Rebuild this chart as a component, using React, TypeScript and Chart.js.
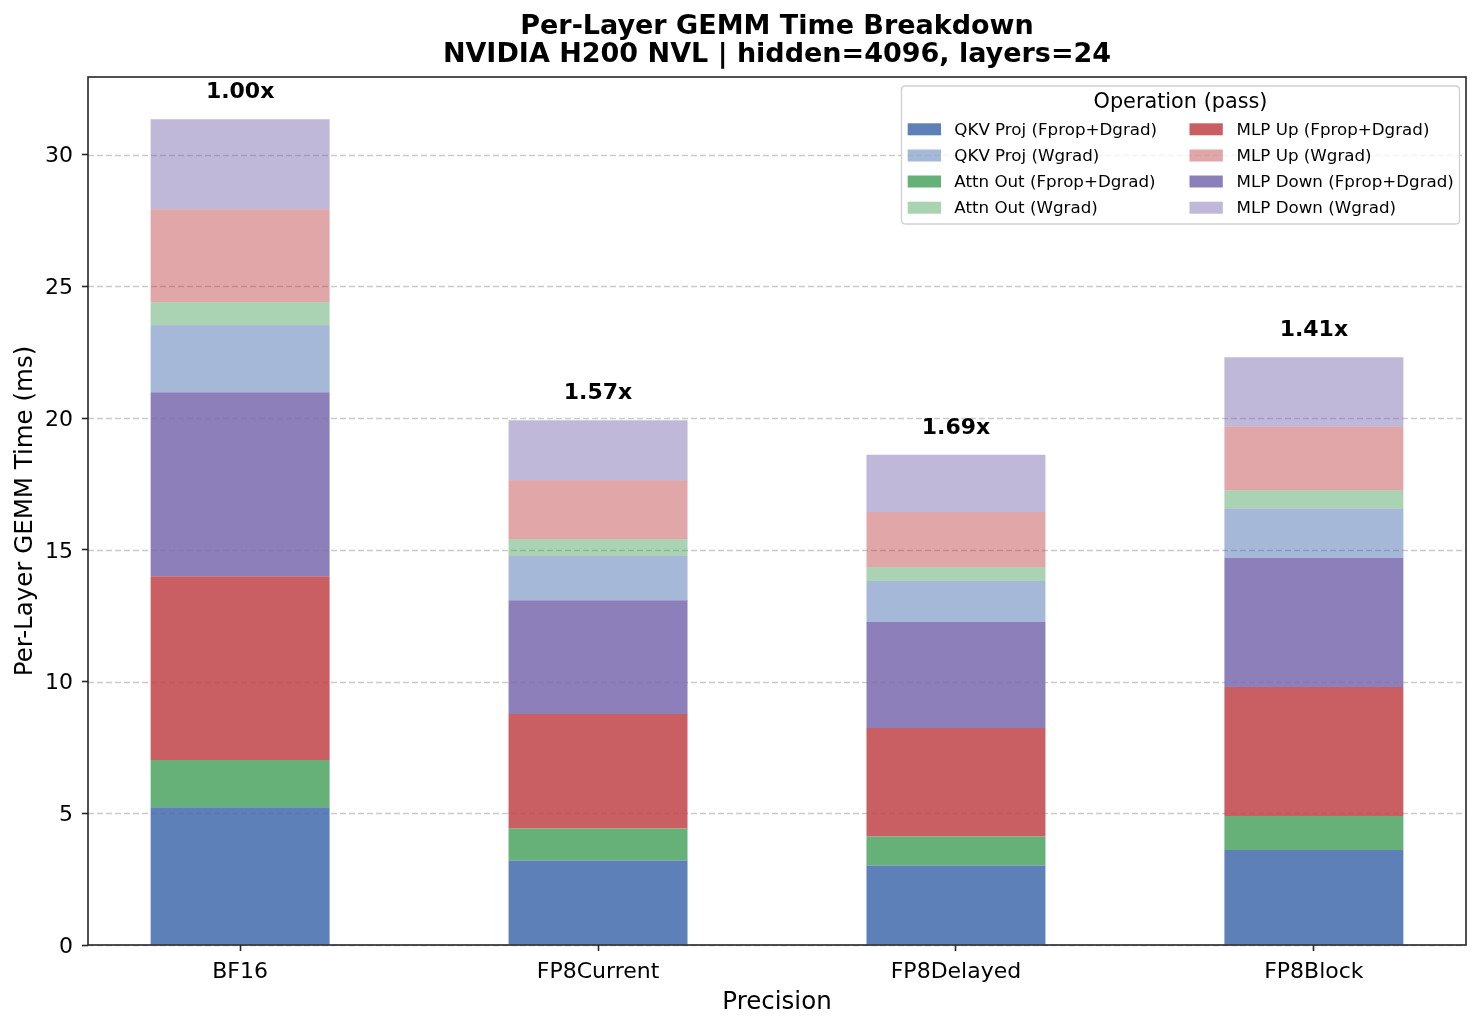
import React, { useEffect, useRef } from "react";
import { Chart, registerables } from "chart.js";

Chart.register(...registerables);

// ---- data ----
const categories = ["BF16", "FP8Current", "FP8Delayed", "FP8Block"];
const speedupLabels = ["1.00x", "1.57x", "1.69x", "1.41x"];
const yTickValues = [0, 5, 10, 15, 20, 25, 30];

const qkvFprop = [5.23, 3.21, 3.02, 3.61];
const attnFprop = [1.79, 1.21, 1.10, 1.29];
const mlpUpFprop = [6.98, 4.35, 4.12, 4.89];
const mlpDownFprop = [6.98, 4.32, 4.02, 4.91];
const qkvWgrad = [2.55, 1.68, 1.56, 1.87];
const attnWgrad = [0.87, 0.63, 0.53, 0.68];
const mlpUpWgrad = [3.53, 2.24, 2.09, 2.42];
const mlpDownWgrad = [3.42, 2.28, 2.17, 2.64];

const FONT = "'DejaVu Sans', sans-serif";

const BLUE = [76, 114, 176];
const GREEN = [85, 168, 104];
const RED = [196, 78, 82];
const PURPLE = [129, 114, 179];
const rgba = (c: number[], a: number) => `rgba(${c[0]},${c[1]},${c[2]},${a})`;

// stacking order, bottom to top
const series = [
  { label: "QKV Proj (Fprop+Dgrad)", values: qkvFprop, color: rgba(BLUE, 0.9) },
  { label: "Attn Out (Fprop+Dgrad)", values: attnFprop, color: rgba(GREEN, 0.9) },
  { label: "MLP Up (Fprop+Dgrad)", values: mlpUpFprop, color: rgba(RED, 0.9) },
  { label: "MLP Down (Fprop+Dgrad)", values: mlpDownFprop, color: rgba(PURPLE, 0.9) },
  { label: "QKV Proj (Wgrad)", values: qkvWgrad, color: rgba(BLUE, 0.5) },
  { label: "Attn Out (Wgrad)", values: attnWgrad, color: rgba(GREEN, 0.5) },
  { label: "MLP Up (Wgrad)", values: mlpUpWgrad, color: rgba(RED, 0.5) },
  { label: "MLP Down (Wgrad)", values: mlpDownWgrad, color: rgba(PURPLE, 0.5) },
];

// legend order (column-major, 2 columns)
const legendOrder = [
  "QKV Proj (Fprop+Dgrad)",
  "QKV Proj (Wgrad)",
  "Attn Out (Fprop+Dgrad)",
  "Attn Out (Wgrad)",
  "MLP Up (Fprop+Dgrad)",
  "MLP Up (Wgrad)",
  "MLP Down (Fprop+Dgrad)",
  "MLP Down (Wgrad)",
];

const titleLines = [
  "Per-Layer GEMM Time Breakdown",
  "NVIDIA H200 NVL | hidden=4096, layers=24",
];

const decorPlugin = {
  id: "decor",
  beforeDatasetsDraw(chart: any) {
    const { ctx, chartArea, scales } = chart;
    ctx.save();
    ctx.strokeStyle = "rgba(150,150,150,0.5)";
    ctx.lineWidth = 1.3;
    ctx.setLineDash([6, 3]);
    for (const v of yTickValues) {
      const y = Math.round(scales.y.getPixelForValue(v)) + 0.5;
      ctx.beginPath();
      ctx.moveTo(chartArea.left, y);
      ctx.lineTo(chartArea.right, y);
      ctx.stroke();
    }
    ctx.restore();
  },
  afterDatasetsDraw(chart: any) {
    const { ctx, scales } = chart;
    ctx.save();
    ctx.font = `bold 22px ${FONT}`;
    ctx.fillStyle = "#000";
    ctx.textAlign = "center";
    ctx.textBaseline = "alphabetic";
    categories.forEach((_, i) => {
      const total = series.reduce((s, d) => s + d.values[i], 0);
      const x = scales.x.getPixelForValue(i);
      const y = scales.y.getPixelForValue(total);
      ctx.fillText(speedupLabels[i], x, y - 21);
    });
    ctx.restore();
  },
  afterDraw(chart: any) {
    const { ctx, chartArea } = chart;
    const { left, right, top, bottom } = chartArea;
    ctx.save();
    // spines
    ctx.strokeStyle = "#262626";
    ctx.lineWidth = 1.6;
    ctx.strokeRect(left, top, right - left, bottom - top);

    // title
    ctx.fillStyle = "#000";
    ctx.textAlign = "center";
    ctx.textBaseline = "alphabetic";
    ctx.font = `bold 27px ${FONT}`;
    const cx = (left + right) / 2;
    ctx.fillText(titleLines[0], cx, 33.5);
    ctx.fillText(titleLines[1], cx, 62);

    // legend
    const bx = 901.5, by = 86, bw = 558, bh = 138, r = 4;
    ctx.beginPath();
    ctx.moveTo(bx + r, by);
    ctx.lineTo(bx + bw - r, by);
    ctx.quadraticCurveTo(bx + bw, by, bx + bw, by + r);
    ctx.lineTo(bx + bw, by + bh - r);
    ctx.quadraticCurveTo(bx + bw, by + bh, bx + bw - r, by + bh);
    ctx.lineTo(bx + r, by + bh);
    ctx.quadraticCurveTo(bx, by + bh, bx, by + bh - r);
    ctx.lineTo(bx, by + r);
    ctx.quadraticCurveTo(bx, by, bx + r, by);
    ctx.closePath();
    ctx.fillStyle = "rgba(255,255,255,0.8)";
    ctx.fill();
    ctx.strokeStyle = "#d0d0d0";
    ctx.lineWidth = 1.3;
    ctx.stroke();

    ctx.fillStyle = "#000";
    ctx.font = `20.8px ${FONT}`;
    ctx.textAlign = "center";
    ctx.textBaseline = "middle";
    ctx.fillText("Operation (pass)", bx + bw / 2, 103);

    ctx.font = `16.7px ${FONT}`;
    ctx.textAlign = "left";
    const rows = [129.3, 155.5, 181.5, 207.7];
    const patchX = [907.7, 1189.5];
    const textX = [954.3, 1236.6];
    legendOrder.forEach((label, k) => {
      const col = Math.floor(k / 4);
      const row = k % 4;
      const s = series.find((d) => d.label === label)!;
      const cy = rows[row];
      ctx.fillStyle = s.color;
      ctx.fillRect(patchX[col], cy - 6, 33.3, 12);
      ctx.fillStyle = "#000";
      ctx.fillText(label, textX[col], cy + 1);
    });
    ctx.restore();
  },
};

export default function App() {
  const canvasRef = useRef<HTMLCanvasElement>(null);

  useEffect(() => {
    document.body.style.margin = "0";
    const canvas = canvasRef.current!;
    const chart = new Chart(canvas, {
      type: "bar",
      data: {
        datasets: series.map((s) => ({
          label: s.label,
          data: s.values.map((v, i) => ({ x: i, y: v })),
          backgroundColor: s.color,
          borderWidth: 0,
          barPercentage: 0.5,
          categoryPercentage: 1.0,
        })),
      },
      options: {
        animation: false,
        responsive: false,
        devicePixelRatio: 1,
        layout: { padding: { top: 77, right: 16, bottom: 0, left: 0 } },
        plugins: {
          legend: { display: false },
          tooltip: { enabled: false },
          title: { display: false },
        },
        scales: {
          x: {
            type: "linear",
            min: -0.425,
            max: 3.425,
            stacked: true,
            offset: false,
            afterBuildTicks: (axis: any) => {
              axis.ticks = categories.map((_, i) => ({ value: i }));
            },
            afterFit: (axis: any) => {
              axis.height = 85;
            },
            ticks: {
              callback: (v: any) => categories[Math.round(Number(v))] ?? "",
              font: { family: FONT, size: 22 },
              color: "#000",
              padding: 7.6,
              maxRotation: 0,
              minRotation: 0,
              autoSkip: false,
            },
            grid: {
              offset: false,
              drawOnChartArea: false,
              drawTicks: true,
              tickLength: 6,
              tickWidth: 1.6,
              tickColor: "#262626",
            },
            border: { display: false },
            title: {
              display: true,
              text: "Precision",
              font: { family: FONT, size: 24.5 },
              color: "#000",
              padding: { top: 0, bottom: 12.3 },
            },
          },
          y: {
            type: "linear",
            min: 0,
            max: 32.95,
            stacked: true,
            afterBuildTicks: (axis: any) => {
              axis.ticks = yTickValues.map((v) => ({ value: v }));
            },
            afterFit: (axis: any) => {
              axis.width = 88;
            },
            ticks: {
              font: { family: FONT, size: 22 },
              color: "#000",
              padding: 9,
              labelOffset: 2,
            },
            grid: {
              drawOnChartArea: false,
              drawTicks: true,
              tickLength: 6,
              tickWidth: 1.6,
              tickColor: "#262626",
            },
            border: { display: false },
            title: {
              display: true,
              text: "Per-Layer GEMM Time (ms)",
              font: { family: FONT, size: 24.5 },
              color: "#000",
              padding: { top: 11, bottom: 0 },
            },
          },
        },
      } as any,
      plugins: [decorPlugin],
    });
    return () => chart.destroy();
  }, []);

  return (
    <div style={{ position: "absolute", left: 0, top: 0, width: 1482, height: 1030, background: "#fff" }}>
      <canvas ref={canvasRef} width={1482} height={1030} style={{ width: 1482, height: 1030, display: "block" }} />
    </div>
  );
}
